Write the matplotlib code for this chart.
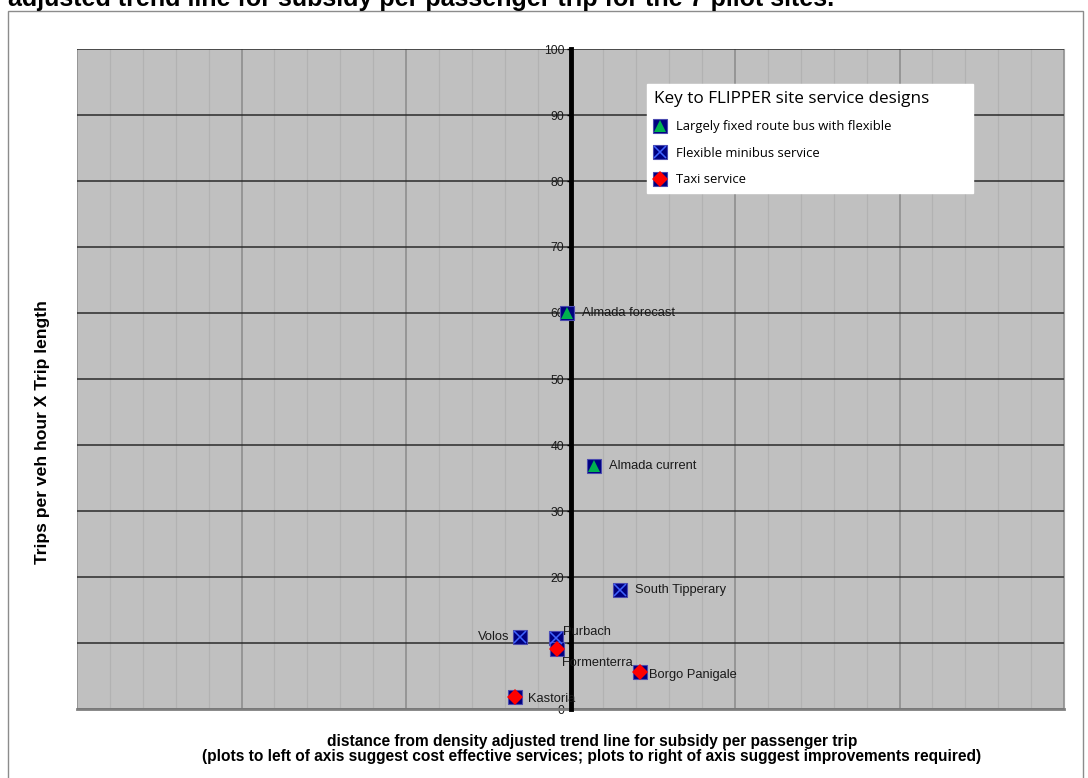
import matplotlib.pyplot as plt
from matplotlib.lines import Line2D
from matplotlib.patches import Rectangle
from matplotlib.ticker import MultipleLocator, NullFormatter

# FLIPPER pilot sites: distance from the density adjusted subsidy trend line
# against productivity (trips per vehicle hour x trip length)
sites = ["Almada forecast", "Almada current", "South Tipperary", "Volos",
         "Purbach", "Formenterra", "Borgo Panigale", "Kastoria"]
distance = [-0.02, 0.14, 0.30, -0.31, -0.09, -0.08, 0.42, -0.34]
trips = [60.0, 36.8, 18.0, 10.9, 10.8, 9.1, 5.6, 1.8]
design = ["bus", "bus", "minibus", "minibus", "minibus", "taxi", "taxi", "taxi"]

design_names = {
    "bus": "Largely fixed route bus with flexible",
    "minibus": "Flexible minibus service",
    "taxi": "Taxi service",
}

title = "adjusted trend line for subsidy per passenger trip for the 7 pilot sites."
xlabel = ("distance from density adjusted trend line for subsidy per passenger trip\n"
          "(plots to left of axis suggest cost effective services; "
          "plots to right of axis suggest improvements required)")
ylabel = "Trips per veh hour X Trip length"

plt.rcParams['font.family'] = ['Liberation Sans', 'DejaVu Sans']

fig = plt.figure(figsize=(10.88, 7.78), dpi=100)
ax = fig.add_axes([77 / 1088, 1 - 709 / 778, 987 / 1088, 660 / 778])
ax.set_facecolor('#c0c0c0')

ax.set_xlim(-3, 3)
ax.set_ylim(0, 100)
ax.xaxis.set_major_locator(MultipleLocator(1))
ax.xaxis.set_minor_locator(MultipleLocator(0.2))
ax.xaxis.set_major_formatter(NullFormatter())
ax.yaxis.set_major_locator(MultipleLocator(10))
ax.tick_params(axis='x', which='both', length=0)
ax.tick_params(axis='y', length=3, width=1, labelsize=8.8, pad=1.5,
               labelcolor='#1a1a1a')

ax.grid(which='minor', axis='x', color='#b2b2b2', lw=0.9)
ax.grid(which='major', axis='x', color='#8a8a8a', lw=1.1)
ax.grid(which='major', axis='y', color='#2a2a2a', lw=1.1)
ax.set_axisbelow(True)

# value axis runs through zero in the middle of the plot
ax.spines['left'].set_position(('data', 0))
ax.spines['left'].set_linewidth(3.5)
ax.spines['left'].set_zorder(3)
ax.spines['top'].set_visible(False)
ax.spines['right'].set_color('#a0a0a0')
ax.spines['bottom'].set_color('#7f7f7f')
ax.spines['bottom'].set_linewidth(2)

navy = '#000080'
inner = {
    "bus": dict(marker='^', color='#00b050', ms=8.5, mew=0),
    "minibus": dict(marker='x', color='#3f63ff', ms=8, mew=1.1),
    "taxi": dict(marker='D', color='#ff0000', ms=8, mew=0),
}

for key, style in inner.items():
    xs = [d for d, g in zip(distance, design) if g == key]
    ys = [t for t, g in zip(trips, design) if g == key]
    ax.plot(xs, ys, ls='none', marker='s', ms=10, mfc=navy, mec='#4b4bb0',
            mew=0.8, zorder=5)
    ax.plot(xs, ys, ls='none', zorder=6, **style)

# label offsets in points from each marker
label_pos = {
    "Almada forecast": (11, 0, 'left'),
    "Almada current": (11, 0, 'left'),
    "South Tipperary": (11, 0, 'left'),
    "Volos": (-7, 0, 'right'),
    "Purbach": (5, 4, 'left'),
    "Formenterra": (3, -10, 'left'),
    "Borgo Panigale": (7, -2, 'left'),
    "Kastoria": (10, -1, 'left'),
}
for name, x, y in zip(sites, distance, trips):
    dx, dy, ha = label_pos[name]
    ax.annotate(name, (x, y), xytext=(dx, dy), textcoords='offset points',
                ha=ha, va='center', fontsize=9.3, color='#1a1a1a', zorder=7)

handles = []
for key in ["bus", "minibus", "taxi"]:
    sq = Line2D([], [], ls='none', marker='s', ms=10, mfc=navy, mec='#4b4bb0', mew=0.8)
    mk = Line2D([], [], ls='none', **inner[key])
    handles.append((sq, mk))
leg = ax.legend(handles, [design_names[k] for k in ["bus", "minibus", "taxi"]],
                title="Key to FLIPPER site service designs",
                loc='upper left', mode='expand',
                bbox_to_anchor=(647 / 1088, 1 - 84 / 778, 326 / 1088, 0),
                bbox_transform=fig.transFigure, borderaxespad=0,
                frameon=True, fancybox=False, facecolor='white',
                edgecolor='white', framealpha=1, alignment='left',
                prop={'family': 'Open Sans', 'size': 9.4},
                title_fontproperties={'family': 'Open Sans', 'size': 12.3},
                handlelength=0.9, handletextpad=0.75, labelspacing=1.02,
                borderpad=0.55)
leg.set_zorder(10)

fig.text(592 / 1088, 1 - 749 / 778, xlabel, ha='center', va='center',
         fontsize=11.2, fontweight='bold', linespacing=1.05)
fig.text(43 / 1088, 1 - 432 / 778, ylabel, ha='center', va='center',
         rotation=90, fontsize=12.6, fontweight='bold')
fig.text(8 / 1088, 1 - 6 / 778, title, ha='left', va='baseline',
         fontsize=18, fontweight='bold')

fig.patches.append(Rectangle((7.5 / 1088, -0.01), 1075 / 1088, 1.01 - 10.5 / 778,
                             transform=fig.transFigure, fill=False,
                             ec='#8c8c8c', lw=1))

fig.savefig('out.png', dpi=100)
